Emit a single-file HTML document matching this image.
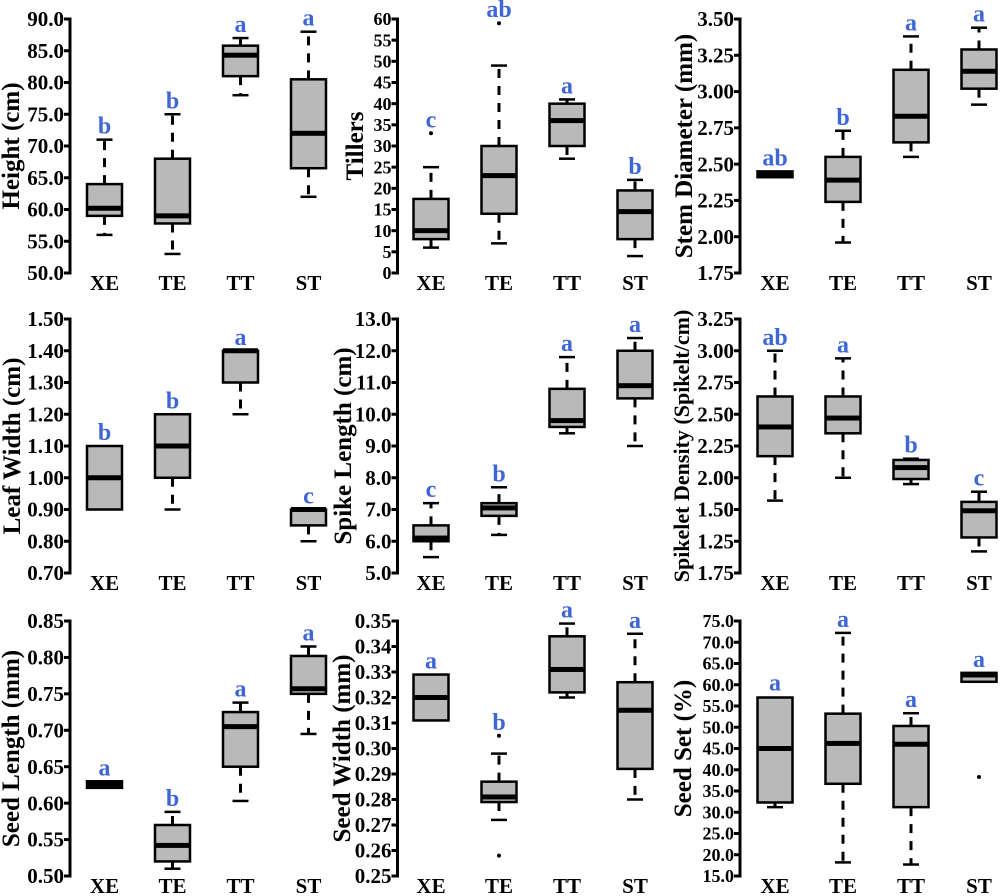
<!DOCTYPE html>
<html><head><meta charset="utf-8">
<style>
html,body{margin:0;padding:0;background:#fff;}
svg{display:block;}
</style></head>
<body>
<svg id="chart" width="1000" height="896" viewBox="0 0 1000 896" xmlns="http://www.w3.org/2000/svg" font-family="'Liberation Serif', 'DejaVu Serif', serif" font-weight="bold"></svg>
<script>
// ---- data ----
const categories = ["XE","TE","TT","ST"];
// five-number summaries per category: [low whisker, q1, median, q3, high whisker]
const heightStats = [[56,59,60.2,64,71],[53,57.8,59,68,75],[78,81,84.3,85.8,87],[62,66.5,72,80.5,88]];
const heightOutliers = [[],[],[],[]];
const heightLetters = ["b","b","a","a"];
const heightTicks = ["50.0","55.0","60.0","65.0","70.0","75.0","80.0","85.0","90.0"];

const tillersStats = [[6,8,10,17.5,25],[7,14,23,30,49],[27,30,36,40,41],[4,8,14.5,19.5,22]];
const tillersOutliers = [[33],[59],[],[]];
const tillersLetters = ["c","ab","a","b"];
const tillersTicks = ["0","5","10","15","20","25","30","35","40","45","50","55","60"];

const stemStats = [[2.41,2.41,2.43,2.45,2.45],[1.96,2.24,2.39,2.55,2.73],[2.55,2.65,2.83,3.15,3.38],[2.91,3.02,3.14,3.29,3.44]];
const stemOutliers = [[],[],[],[]];
const stemLetters = ["ab","b","a","a"];
const stemTicks = ["1.75","2.00","2.25","2.50","2.75","3.00","3.25","3.50"];

const leafStats = [[0.9,0.9,1.0,1.1,1.1],[0.9,1.0,1.1,1.2,1.2],[1.2,1.3,1.4,1.4,1.4],[0.8,0.85,0.9,0.9,0.9]];
const leafOutliers = [[],[],[],[]];
const leafLetters = ["b","b","a","c"];
const leafTicks = ["0.70","0.80","0.90","1.00","1.10","1.20","1.30","1.40","1.50"];

const spikeStats = [[5.5,6.0,6.1,6.5,7.2],[6.2,6.8,7.05,7.2,7.7],[9.4,9.6,9.8,10.8,11.8],[9.0,10.5,10.9,12.0,12.4]];
const spikeOutliers = [[],[],[],[]];
const spikeLetters = ["c","b","a","a"];
const spikeTicks = ["5.0","6.0","7.0","8.0","9.0","10.0","11.0","12.0","13.0"];

const densityStats = [[1.82,2.17,2.40,2.64,3.00],[2.00,2.35,2.47,2.64,2.94],[1.95,1.99,2.08,2.14,2.15],[1.42,1.53,1.74,1.81,1.89]];
const densityOutliers = [[],[],[],[]];
const densityLetters = ["ab","a","b","c"];
const densityTicks = ["1.75","1.25","1.50","2.00","2.25","2.50","2.75","3.00","3.25"];

const seedLenStats = [[0.621,0.621,0.625,0.630,0.630],[0.51,0.52,0.542,0.57,0.588],[0.603,0.65,0.705,0.725,0.738],[0.695,0.75,0.757,0.802,0.815]];
const seedLenOutliers = [[],[],[],[]];
const seedLenLetters = ["a","b","a","a"];
const seedLenTicks = ["0.50","0.55","0.60","0.65","0.70","0.75","0.80","0.85"];

const seedWidStats = [[0.311,0.311,0.320,0.329,0.329],[0.272,0.279,0.281,0.287,0.298],[0.320,0.322,0.331,0.344,0.349],[0.280,0.292,0.315,0.326,0.345]];
const seedWidOutliers = [[],[0.305,0.258],[],[]];
const seedWidLetters = ["a","b","a","a"];
const seedWidTicks = ["0.25","0.26","0.27","0.28","0.29","0.30","0.31","0.32","0.33","0.34","0.35"];

const seedSetStats = [[31.2,32.3,45,57,57.2],[18.2,36.7,46.2,53.2,72.2],[17.7,31.2,46,50.3,53.3],[60.7,60.7,62.3,62.8,62.8]];
const seedSetOutliers = [[],[],[],[38.3]];
const seedSetLetters = ["a","a","a","a"];
const seedSetTicks = ["15.0","20.0","25.0","30.0","35.0","40.0","45.0","50.0","55.0","60.0","65.0","70.0","75.0"];

// ---- layout ----
const colAxis = [70, 397.5, 740];
const colFirst = [104.5, 431, 775];
const rowTop = [19, 319, 621];
const rowBot = [273, 573, 876];
const panels = [
  {name:"height",title:"Height (cm)",min:50,max:90,stats:heightStats,out:heightOutliers,letters:heightLetters,ticks:heightTicks,r:0,c:0,tx:19,fs:25},
  {name:"tillers",title:"Tillers",min:0,max:60,stats:tillersStats,out:tillersOutliers,letters:tillersLetters,ticks:tillersTicks,r:0,c:1,tx:363,fs:25},
  {name:"stem-diameter",title:"Stem Diameter (mm)",min:1.75,max:3.5,stats:stemStats,out:stemOutliers,letters:stemLetters,ticks:stemTicks,r:0,c:2,tx:692,fs:25},
  {name:"leaf-width",title:"Leaf Width (cm)",min:0.7,max:1.5,stats:leafStats,out:leafOutliers,letters:leafLetters,ticks:leafTicks,r:1,c:0,tx:20,fs:25},
  {name:"spike-length",title:"Spike Length (cm)",min:5,max:13,stats:spikeStats,out:spikeOutliers,letters:spikeLetters,ticks:spikeTicks,r:1,c:1,tx:351,fs:25},
  {name:"spikelet-density",title:"Spikelet Density (Spikelt/cm)",min:1.25,max:3.25,stats:densityStats,out:densityOutliers,letters:densityLetters,ticks:densityTicks,r:1,c:2,tx:689,fs:22},
  {name:"seed-length",title:"Seed Length (mm)",min:0.5,max:0.85,stats:seedLenStats,out:seedLenOutliers,letters:seedLenLetters,ticks:seedLenTicks,r:2,c:0,tx:19,fs:25},
  {name:"seed-width",title:"Seed Width (mm)",min:0.25,max:0.35,stats:seedWidStats,out:seedWidOutliers,letters:seedWidLetters,ticks:seedWidTicks,r:2,c:1,tx:350,fs:25},
  {name:"seed-set",title:"Seed Set (%)",min:15,max:75,stats:seedSetStats,out:seedSetOutliers,letters:seedSetLetters,ticks:seedSetTicks,r:2,c:2,tx:691,fs:25}
];

const NS = "http://www.w3.org/2000/svg";
const svg = document.getElementById("chart");
function mk(tag, attrs, parent, txt){
  const e = document.createElementNS(NS, tag);
  for (const k in attrs) e.setAttribute(k, attrs[k]);
  if (txt !== undefined) e.textContent = txt;
  parent.appendChild(e);
  return e;
}

panels.forEach(p => {
  const ax = colAxis[p.c], top = rowTop[p.r], bot = rowBot[p.r];
  const y = v => bot - (v - p.min) / (p.max - p.min) * (bot - top);
  const xc = i => colFirst[p.c] + i * 68;
  const g = mk("g", {}, svg);
  
  

  const axis = mk("line", {x1:ax,y1:top-1.5,x2:ax,y2:bot+1.5,stroke:"#000","stroke-width":3}, g);
  
  

  const n = p.ticks.length;
  const tfs = n > 11 ? 18 : 21;
  p.ticks.forEach((t, i) => {
    const ty = bot - i * (bot - top) / (n - 1);
    const tk = mk("line", {x1:ax-6,y1:ty,x2:ax,y2:ty,stroke:"#000","stroke-width":3}, g);
    
    
    const tl = mk("text", {x:ax-6,y:ty+tfs*0.34,"text-anchor":"end","font-size":tfs,fill:"#000"}, g, t);
    
    
  });

  const cy = (top + bot) / 2;
  const tt = mk("text", {x:0,y:0,"text-anchor":"middle","font-size":p.fs,fill:"#000",transform:`translate(${p.tx},${cy}) rotate(-90)`}, g, p.title);
  
  

  categories.forEach((cat, i) => {
    const x = xc(i);
    const cl = mk("text", {x:x,y:bot+17,"text-anchor":"middle","font-size":21,fill:"#000"}, g, cat);
    
    

    const [lo, q1, md, q3, hi] = p.stats[i];
    const w = 35;
    if (y(hi) < y(q3) - 1) {
      const wh = mk("line", {x1:x,y1:y(q3),x2:x,y2:y(hi),stroke:"#000","stroke-width":3,"stroke-dasharray":"9,8"}, g);
      
      
      const cp = mk("line", {x1:x-8,y1:y(hi),x2:x+8,y2:y(hi),stroke:"#000","stroke-width":2.5}, g);
      
      
    }
    if (y(lo) > y(q1) + 1) {
      const wl = mk("line", {x1:x,y1:y(q1),x2:x,y2:y(lo),stroke:"#000","stroke-width":3,"stroke-dasharray":"9,8"}, g);
      
      
      const cp = mk("line", {x1:x-8,y1:y(lo),x2:x+8,y2:y(lo),stroke:"#000","stroke-width":2.5}, g);
      
      
    }
    const bx = mk("rect", {x:x-w/2,y:y(q3),width:w,height:Math.max(0.5,y(q1)-y(q3)),fill:"#b9b9b9",stroke:"#000","stroke-width":2.5}, g);
    
    
    const mdl = mk("rect", {x:x-w/2,y:y(md)-2.5,width:w,height:5,fill:"#000"}, g);
    
    

    let topV = hi;
    p.out[i].forEach(o => {
      const dot = mk("circle", {cx:x,cy:y(o),r:2,fill:"#000"}, g);
      
      
      if (o > topV) topV = o;
    });
    const lt = mk("text", {x:x,y:y(topV)-6,"text-anchor":"middle","font-size":24,fill:"#3f66d6"}, g, p.letters[i]);
    
    
  });
});
</script>
</body></html>
